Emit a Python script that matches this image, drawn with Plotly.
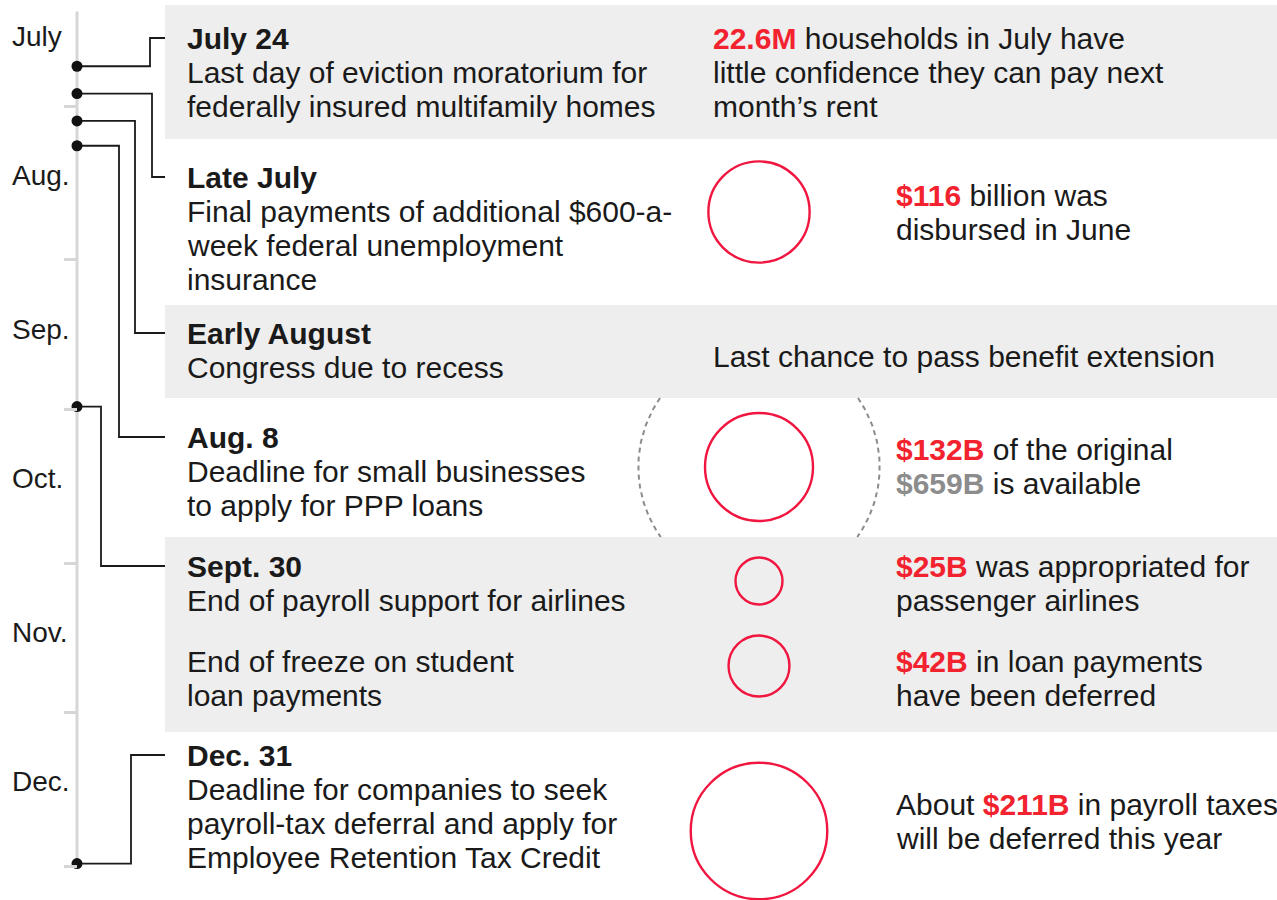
import numpy as np
import pandas as pd
import plotly.graph_objects as go

RED = "#f2222f"
RING = "#f0163f"
INK = "#1a1a1a"
BAND = "#eeeeee"
SPINE = "#d6d6d6"
FONT = "Liberation Sans, Arial, sans-serif"


def red(s):
    return f"<b><span style='color:{RED}'>{s}</span></b>"


# ---- data ----
month_labels = ["July", "Aug.", "Sep.", "Oct.", "Nov.", "Dec."]
month_label_dates = ["2020-07-18", "2020-08-15", "2020-09-15", "2020-10-15", "2020-11-15", "2020-12-15"]
month_starts = ["2020-08-01", "2020-09-01", "2020-10-01", "2020-11-01", "2020-12-01", "2021-01-01"]

block_titles = ["July 24", "Late July", "Early August", "Aug. 8", "Sept. 30", "", "Dec. 31"]
block_dates = ["2020-07-24", "2020-07-29 12:00", "2020-08-04", "2020-08-09",
               "2020-09-30 12:00", None, "2020-12-31 12:00"]
block_text = [
    ["Last day of eviction moratorium for", "federally insured multifamily homes"],
    ["Final payments of additional $600-a-", "week federal unemployment", "insurance"],
    ["Congress due to recess"],
    ["Deadline for small businesses", "to apply for PPP loans"],
    ["End of payroll support for airlines"],
    ["End of freeze on student", "loan payments"],
    ["Deadline for companies to seek", "payroll-tax deferral and apply for", "Employee Retention Tax Credit"],
]
block_notes = [
    [red("22.6M") + " households in July have", "little confidence they can pay next", "month’s rent"],
    [red("$116") + " billion was", "disbursed in June"],
    ["Last chance to pass benefit extension"],
    [red("$132B") + " of the original", "<b><span style='color:#8c8c8c'>$659B</span></b> is available"],
    [red("$25B") + " was appropriated for", "passenger airlines"],
    [red("$42B") + " in loan payments", "have been deferred"],
    ["About " + red("$211B") + " in payroll taxes", "will be deferred this year"],
]
amounts_bn = [None, 116, None, 132, 25, 42, 211]
ppp_total_bn = 659

# ---- layout (pixels) ----
W, H = 1277, 900
AXIS_X = 77
AUG1_PX, JAN1_PX = 106, 866
SPINE_TOP = "2020-07-13"
TEXT_X = 185
BAND_X = 165
LINE_STEP = 34
row_y = [38, 177, 333, 437, 566, 661, 755]
elbow_x = [150, 152, 135, 119, 101, None, 131]
note_x = [711, 894, 711, 894, 894, 894, 894]
note_y = [38, 195, 356, 449, 566, 661, 804]
ring_x = 759
ring_y = [None, 212, None, 467, 581, 666, 831]
bands = [(5, 139), (305, 398), (537, 732)]
RING_K = 9.4  # px of diameter per sqrt(billion)
SIZEREF = 2 / RING_K ** 2

# date scale for the timeline axis
t0, t1 = pd.Timestamp(month_starts[0]), pd.Timestamp(month_starts[-1])
per_px = (t1 - t0) / (JAN1_PX - AUG1_PX)
date_zero = t0 - per_px * AUG1_PX


def px_to_date(py):
    return (date_zero + per_px * py).isoformat()


fig = go.Figure()

# timeline spine
fig.add_trace(go.Scatter(x=[AXIS_X, AXIS_X], y=[SPINE_TOP, month_starts[-1]], yaxis="y2",
                         mode="lines", line=dict(color=SPINE, width=3), hoverinfo="skip"))

# connectors from dots to rows
cx, cy = [], []
for d, ex, ry in zip(block_dates, elbow_x, row_y):
    if d is None:
        continue
    dd = pd.Timestamp(d).isoformat()
    cx += [AXIS_X, ex, ex, BAND_X, None]
    cy += [dd, dd, px_to_date(ry), px_to_date(ry), None]
fig.add_trace(go.Scatter(x=cx, y=cy, yaxis="y2", mode="lines",
                         line=dict(color=INK, width=1.8), hoverinfo="skip"))

# event dots
dot_dates = [d for d in block_dates if d is not None]
fig.add_trace(go.Scatter(x=[AXIS_X] * len(dot_dates), y=dot_dates, yaxis="y2", mode="markers",
                         marker=dict(color="#111111", size=11), hoverinfo="skip"))

# dashed ring for PPP total, clipped to its white row
ci = amounts_bn.index(132)
r_total = np.sqrt(2 * ppp_total_bn / SIZEREF) / 2
lo = np.arcsin((bands[1][1] - ring_y[ci]) / r_total)
hi = np.arcsin((bands[2][0] - ring_y[ci]) / r_total)
t = np.linspace(lo, hi, 60)
ax = list(ring_x + r_total * np.cos(t)) + [None] + list(ring_x - r_total * np.cos(t))
ay = list(ring_y[ci] + r_total * np.sin(t)) + [None] + list(ring_y[ci] + r_total * np.sin(t))
fig.add_trace(go.Scatter(x=ax, y=ay, mode="lines",
                         line=dict(color="#8c8c8c", width=2, dash="5px,4px"), hoverinfo="skip"))

# proportional rings (bubble markers default to 0.7 opacity, so force 1)
rx = [ring_x for a in amounts_bn if a is not None]
ry_ = [y for a, y in zip(amounts_bn, ring_y) if a is not None]
rs = [a for a in amounts_bn if a is not None]
fig.add_trace(go.Scatter(x=rx, y=ry_, mode="markers", hoverinfo="skip",
                         marker=dict(symbol="circle-open", size=rs, sizemode="area", sizeref=SIZEREF,
                                     opacity=1, color=RING, line=dict(width=2.4, color=RING))))

# gray bands
for y0, y1 in bands:
    fig.add_shape(type="rect", x0=BAND_X, x1=W, y0=y0, y1=y1, xref="x", yref="y",
                  fillcolor=BAND, line=dict(width=0), layer="below")

ann = []
for lab, d in zip(month_labels, month_label_dates):
    ann.append(dict(x=10, y=d, xref="x", yref="y2", text=lab, xanchor="left", yanchor="middle",
                    showarrow=False, font=dict(size=28, color=INK, family=FONT)))

for title, lines, y0 in zip(block_titles, block_text, row_y):
    rows = ([f"<b>{title}</b>"] if title else []) + lines
    for i, s in enumerate(rows):
        ann.append(dict(x=TEXT_X, y=y0 + i * LINE_STEP, xref="x", yref="y", text=s,
                        xanchor="left", yanchor="middle", showarrow=False,
                        font=dict(size=30, color=INK, family=FONT)))

for lines, nx, ny in zip(block_notes, note_x, note_y):
    for i, s in enumerate(lines):
        ann.append(dict(x=nx, y=ny + i * LINE_STEP, xref="x", yref="y", text=s,
                        xanchor="left", yanchor="middle", showarrow=False,
                        font=dict(size=30, color=INK, family=FONT)))

fig.update_layout(
    width=W, height=H,
    margin=dict(l=0, r=0, t=0, b=0),
    paper_bgcolor="white", plot_bgcolor="white",
    showlegend=False,
    xaxis=dict(range=[0, W], visible=False, fixedrange=True),
    yaxis=dict(range=[H, 0], visible=False, fixedrange=True),
    yaxis2=dict(type="date", overlaying="y", anchor="free", position=AXIS_X / W,
                range=[px_to_date(H), px_to_date(0)],
                showgrid=False, zeroline=False, showline=False, showticklabels=False,
                ticks="outside", tickvals=month_starts, ticklen=13, tickwidth=3, tickcolor=SPINE,
                fixedrange=True),
    annotations=ann,
)

# drop the default body margin so the figure fills the window exactly
fig.write_html("out.html", config={"displayModeBar": False},
               post_script="document.body.style.margin = '0';")
